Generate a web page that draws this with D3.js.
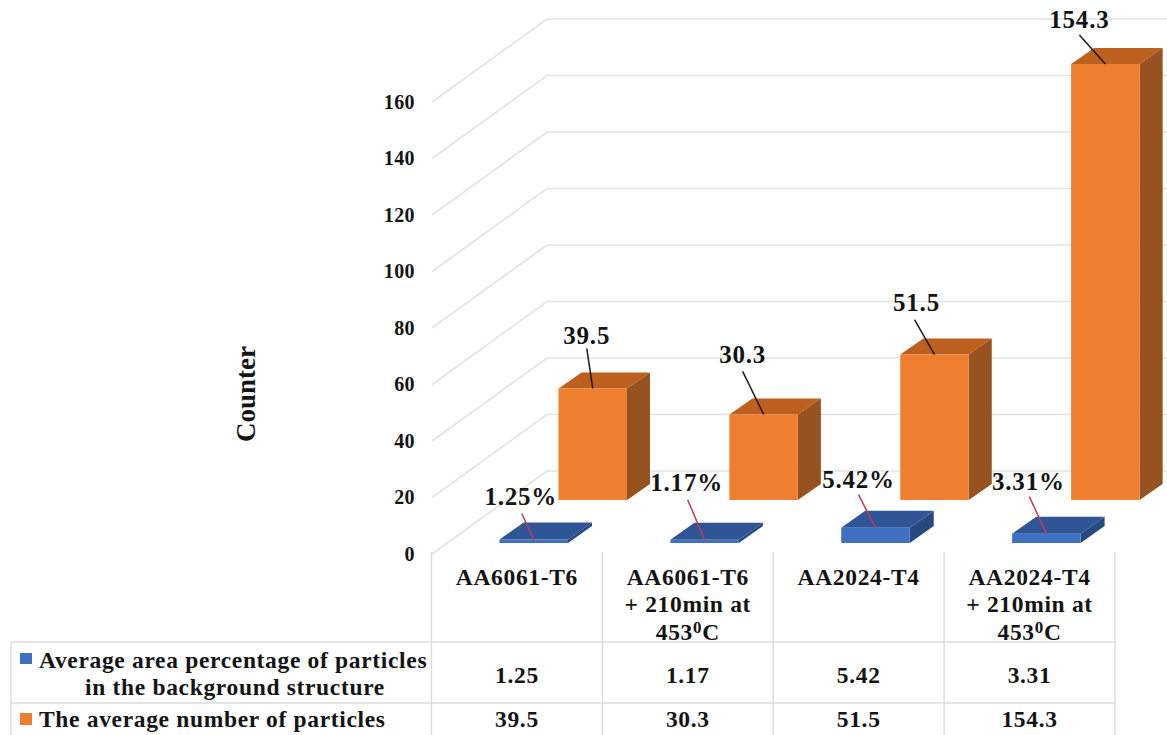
<!DOCTYPE html>
<html>
<head>
<meta charset="utf-8">
<script src="https://cdnjs.cloudflare.com/ajax/libs/d3/7.8.5/d3.min.js"></script>
<style>
  html, body { margin: 0; padding: 0; background: #fff; }
  svg { display: block; }
  text { font-family: "Liberation Serif", serif; font-weight: 700; fill: #141414; }
  .cell { font-size: 23.5px; letter-spacing: 0.67px; }
  .callout { font-size: 25px; letter-spacing: 0.8px; }
  .tick { font-size: 20px; letter-spacing: 0.4px; }
</style>
</head>
<body>
<svg id="chart" width="1167" height="735"></svg>
<script>
// Chart values
const categories = ["AA6061-T6", "AA6061-T6 + 210min at 453C", "AA2024-T4", "AA2024-T4 + 210min at 453C"];
const areaPercent = [1.25, 1.17, 5.42, 3.31];
const particleCount = [39.5, 30.3, 51.5, 154.3];
const yTicks = [0, 20, 40, 60, 80, 100, 120, 140, 160];
const areaName = ["Average area percentage of particles", "in the background structure"];
const countName = "The average number of particles";

// Label placement relative to the front-top centre of each bar
const areaLabelShift = [[-13, -43], [-18, -57], [-17, -48], [-18, -52]];
const areaLeaderFrom = [[-12, -26], [-17, -40], [-17, -33], [-17, -37]];
const countLabelShift = [[-6, -53], [-21, -60], [-18, -52], [-26, -44]];
const countLeaderFrom = [[-6, -40], [-21, -43], [-20, -35], [-26, -29]];

const colors = {
  area: { front: "#3f70c2", top: "#2f5597", side: "#264a80" },
  count: { front: "#ee7f2f", top: "#bd601f", side: "#96521f" },
  grid: "#e3e3e3",
  table: "#dcdcdc",
  areaLeader: "#c03a52",
  countLeader: "#1c1c1c"
};

const svg = d3.select("#chart");

// Plot geometry: a front floor edge and a back wall, joined by the 3D depth
const floor = { x: 432, y: 554 };
const wall = { x: 547, y: 471, right: 1167 };
const y = d3.scaleLinear().domain([0, 160]).range([0, 452]);
const slot = d3.scaleBand().domain(d3.range(categories.length)).range([431.5, 1115]);
const barWidth = 68.5;
const rows = [
  { values: areaPercent, color: colors.area, base: 543, inset: 68, depth: [24, -17] },
  { values: particleCount, color: colors.count, base: 500, inset: 127, depth: [23, -16] }
];

// Wall gridlines and the receding floor-to-wall lines
const grid = svg.append("g").attr("fill", "none").attr("stroke", colors.grid).attr("stroke-width", 1.6);
grid.selectAll("path").data(yTicks).join("path")
  .attr("d", t => d3.line()([
    [floor.x, floor.y - y(t)],
    [wall.x, wall.y - y(t)],
    [wall.right, wall.y - y(t)]
  ]));

// Value axis labels
svg.append("g").selectAll("text").data(yTicks).join("text")
  .attr("class", "tick")
  .attr("x", 415).attr("y", t => floor.y - y(t)).attr("dy", "0.33em")
  .attr("text-anchor", "end")
  .text(d => d);

svg.append("text")
  .attr("transform", "translate(255,394) rotate(-90)")
  .attr("text-anchor", "middle").attr("font-size", 27)
  .text("Counter");

// Data table rules
const tableX = d3.range(categories.length + 1).map(i => i < categories.length ? slot(i) : 1115);
const table = svg.append("g").attr("stroke", colors.table).attr("stroke-width", 1.4);
table.selectAll("line.v").data(tableX).join("line").attr("class", "v")
  .attr("x1", d => d).attr("x2", d => d).attr("y1", 552).attr("y2", 735);
table.append("line").attr("x1", 11).attr("x2", 11).attr("y1", 642).attr("y2", 735);
table.selectAll("line.h").data([642, 703]).join("line").attr("class", "h")
  .attr("x1", 11).attr("x2", 1115).attr("y1", d => d).attr("y2", d => d);

// Each bar is three polygons: top, side and front
function drawBars(row) {
  const g = svg.append("g");
  const [dx, dy] = row.depth;
  row.values.forEach((v, i) => {
    const x0 = slot(i) + row.inset;
    const x1 = x0 + barWidth;
    const top = row.base - y(v);
    const poly = (pts, fill) => g.append("polygon")
      .attr("points", pts.map(p => p.join(",")).join(" ")).attr("fill", fill);
    poly([[x0, top], [x0 + dx, top + dy], [x1 + dx, top + dy], [x1, top]], row.color.top);
    poly([[x1, top], [x1 + dx, top + dy], [x1 + dx, row.base + dy], [x1, row.base]], row.color.side);
    poly([[x0, top], [x1, top], [x1, row.base], [x0, row.base]], row.color.front);
  });
}
rows.forEach(drawBars);

// Value callouts with leader lines ending on the bar tops
function drawCallouts(row, fmt, labelShift, leaderFrom, stroke, endDy) {
  const g = svg.append("g");
  row.values.forEach((v, i) => {
    const cx = slot(i) + row.inset + barWidth / 2;
    const top = row.base - y(v);
    g.append("line")
      .attr("x1", cx + leaderFrom[i][0]).attr("y1", top + leaderFrom[i][1])
      .attr("x2", cx).attr("y2", top + endDy)
      .attr("stroke", stroke).attr("stroke-width", 1.5);
    g.append("text").attr("class", "callout")
      .attr("x", cx + labelShift[i][0]).attr("y", top + labelShift[i][1])
      .attr("dy", "0.33em").attr("text-anchor", "middle")
      .text(fmt(v));
  });
}
drawCallouts(rows[0], v => d3.format(".2f")(v) + "%", areaLabelShift, areaLeaderFrom, colors.areaLeader, 0);
drawCallouts(rows[1], v => String(v), countLabelShift, countLeaderFrom, colors.countLeader, 0);

// Category headers of the data table
const headerLines = [
  ["AA6061-T6"],
  ["AA6061-T6", "+ 210min at", "453|C"],
  ["AA2024-T4"],
  ["AA2024-T4", "+ 210min at", "453|C"]
];
headerLines.forEach((lines, i) => {
  const cx = slot(i) + slot.bandwidth() / 2;
  lines.forEach((line, j) => {
    const t = svg.append("text").attr("class", "cell").attr("x", cx).attr("y", 577 + j * 27.5).attr("dy", "0.33em")
      .attr("text-anchor", "middle");
    const parts = line.split("|");
    t.append("tspan").text(parts[0]);
    if (parts.length > 1) {
      t.append("tspan").attr("dy", -7).style("font-size", "17px").text("0");
      t.append("tspan").attr("dy", 7).text(parts[1]);
    }
  });
});

// Legend keys and series names in the left column
svg.append("rect").attr("x", 20).attr("y", 653).attr("width", 12).attr("height", 11).attr("fill", colors.area.front);
svg.append("rect").attr("x", 20).attr("y", 713).attr("width", 12).attr("height", 12).attr("fill", colors.count.front);
svg.append("text").attr("class", "cell").attr("x", 39).attr("y", 660).attr("dy", "0.33em").text(areaName[0]);
svg.append("text").attr("class", "cell").attr("x", 235).attr("y", 687).attr("dy", "0.33em").attr("text-anchor", "middle").text(areaName[1]);
svg.append("text").attr("class", "cell").attr("x", 39).attr("y", 719).attr("dy", "0.33em").text(countName);

// Table values
[[areaPercent, 675], [particleCount, 719]].forEach(([vals, rowY]) => {
  svg.append("g").selectAll("text").data(vals).join("text")
    .attr("class", "cell")
    .attr("x", (d, i) => slot(i) + slot.bandwidth() / 2).attr("y", rowY).attr("dy", "0.33em")
    .attr("text-anchor", "middle")
    .text(d => d);
});
</script>
</body>
</html>
